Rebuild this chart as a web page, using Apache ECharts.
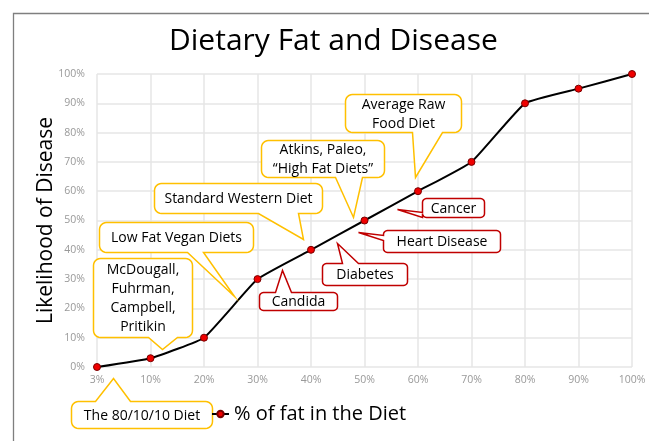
<!DOCTYPE html>
<html>
<head>
<meta charset="utf-8">
<script src="https://cdn.jsdelivr.net/npm/echarts@6/dist/echarts.min.js"></script>
<style>html,body{margin:0;padding:0;background:#fff}#c{width:649px;height:441px}</style>
</head>
<body>
<div id="c"></div>
<script>
const categories = ['3%','10%','20%','30%','40%','50%','60%','70%','80%','90%','100%'];
const seriesName = '% of fat in the Diet';
const values = [0, 3, 10, 30, 40, 50, 60, 70, 90, 95, 100];
const yTicks = [0,10,20,30,40,50,60,70,80,90,100];

// Callout annotations: tip anchored in data space (fractional category index, value)
const calloutTexts = ['McDougall,\nFuhrman,\nCampbell,\nPritikin','Low Fat Vegan Diets','Standard Western Diet','Atkins, Paleo,\n\u201cHigh Fat Diets\u201d','Average Raw\nFood Diet','The 80/10/10 Diet','Candida','Diabetes','Heart Disease','Cancer'];
const calloutTips = [[1.21,6.1],[2.56,24.2],[3.85,43.7],[4.79,51.2],[5.94,64.8],[0.30,-3.75],[3.46,33.1],[4.49,42.3],[4.88,46.1],[5.61,53.9]];
const calloutKinds = ['diet','diet','diet','diet','diet','diet','disease','disease','disease','disease'];

const chart = echarts.init(document.getElementById('c'));
const FONT = 'Open Sans';
chart.setOption({
  animation:false,
  backgroundColor:'#fff',
  title:{text:'Dietary Fat and Disease',left:164,top:21,textStyle:{fontFamily:FONT,fontSize:30,fontWeight:'normal',color:'#000'}},
  legend:{data:[seriesName],left:206,top:399,z:80,itemWidth:17,itemHeight:8,itemGap:2,textStyle:{fontFamily:FONT,fontSize:20,color:'#000'}},
  grid:{left:97,right:17,top:74,bottom:74},
  xAxis:{type:'category',data:categories,boundaryGap:false,
    axisLine:{show:false},axisTick:{show:false},
    axisLabel:{color:'#999',fontSize:10.5,fontFamily:FONT,margin:8},
    splitLine:{show:true,lineStyle:{color:'#E6E6E6',width:1.5}}},
  yAxis:{type:'value',min:0,max:100,interval:10,
    name:'Likelihood of Disease',nameLocation:'middle',nameGap:40,nameMoveOverlap:false,
    nameTextStyle:{fontFamily:FONT,fontSize:21,color:'#000'},
    axisLine:{show:false},axisTick:{show:false},
    axisLabel:{color:'#999',fontSize:10.5,fontFamily:FONT,margin:12,formatter:v=>v+'%'},
    splitLine:{show:true,lineStyle:{color:'#E6E6E6',width:1.5}}},
  series:[{name:seriesName,type:'line',data:values,smooth:0.12,
    symbol:'circle',symbolSize:7,
    lineStyle:{color:'#000',width:2},
    itemStyle:{color:'#F00000',borderColor:'#7A0000',borderWidth:1}}]
});

// layout of callouts relative to their tips (pixels): box [dx0,dy0,dx1,dy1], tail side, tail base [b0,b1]
const layout = [
  {box:[-69,-91,30,-12],side:'bottom',base:[-14,15]},
  {box:[-135,-74,19,-44],side:'bottom',base:[-47,-31]},
  {box:[-149,-56,19,-26],side:'bottom',base:[-45,-5]},
  {box:[-92,-77,31,-40],side:'bottom',base:[-18,9]},
  {box:[-70,-83,46,-45],side:'bottom',base:[-3,27]},
  {box:[-42,23,99,50],side:'top',base:[-18,17]},
  {box:[-23,22,55,40],side:'top',base:[-7,9]},
  {box:[-15,20,70,42],side:'top',base:[5,21]},
  {box:[25,-2,142,20],side:'left',base:[3,8]},
  {box:[25,-11,87,8],side:'left',base:[3,8]}
];
function toPx(d){
  const i0=Math.floor(d[0]), f=d[0]-i0;
  const a=chart.convertToPixel({gridIndex:0},[i0,d[1]]);
  const b=chart.convertToPixel({gridIndex:0},[i0+1,d[1]]);
  return [a[0]+(b[0]-a[0])*f, a[1]];
}
function arc(pts,cx,cy,r,a0,a1){
  const n=6;
  for(let k=0;k<=n;k++){const a=a0+(a1-a0)*k/n; pts.push([cx+r*Math.cos(a),cy+r*Math.sin(a)]);}
}
function calloutPoints(x0,y0,x1,y1,r,side,b0,b1,tx,ty){
  const P=Math.PI, pts=[];
  arc(pts,x0+r,y0+r,r,P,1.5*P);
  if(side==='top'){pts.push([b0,y0],[tx,ty],[b1,y0]);}
  arc(pts,x1-r,y0+r,r,1.5*P,2*P);
  arc(pts,x1-r,y1-r,r,0,0.5*P);
  if(side==='bottom'){pts.push([b1,y1],[tx,ty],[b0,y1]);}
  arc(pts,x0+r,y1-r,r,0.5*P,P);
  if(side==='left'){pts.push([x0,b1],[tx,ty],[x0,b0]);}
  return pts;
}
const graphics = [{type:'rect',left:11,top:11,z:-10,shape:{x:0,y:0,width:700,height:500},style:{fill:'none',stroke:'#7F7F7F',lineWidth:1.3},silent:true}];
calloutTexts.forEach((t,i)=>{
  const tip = toPx(calloutTips[i]);
  const tx = Math.round(tip[0])+0.5, ty = Math.round(tip[1])+0.5;
  const L = layout[i];
  const x0=tx+L.box[0], y0=ty+L.box[1], x1=tx+L.box[2], y1=ty+L.box[3];
  const diet = calloutKinds[i]==='diet';
  let b0,b1;
  if(L.side==='left'){b0=ty+L.base[0]; b1=ty+L.base[1];} else {b0=tx+L.base[0]; b1=tx+L.base[1];}
  graphics.push({type:'polygon',z:50,shape:{points:calloutPoints(x0,y0,x1,y1,diet?7:4,L.side,b0,b1,tx,ty)},
    style:{fill:'#fff',stroke:diet?'#FFC000':'#C00000',lineWidth:1.5,lineJoin:'miter'}});
  graphics.push({type:'text',z:51,x:(x0+x1)/2,y:(y0+y1)/2+1,style:{text:t,fill:'#000',font:`14px "${FONT}"`,align:'center',verticalAlign:'middle',lineHeight:19}});
});
chart.setOption({graphic:graphics});
</script>
</body>
</html>
